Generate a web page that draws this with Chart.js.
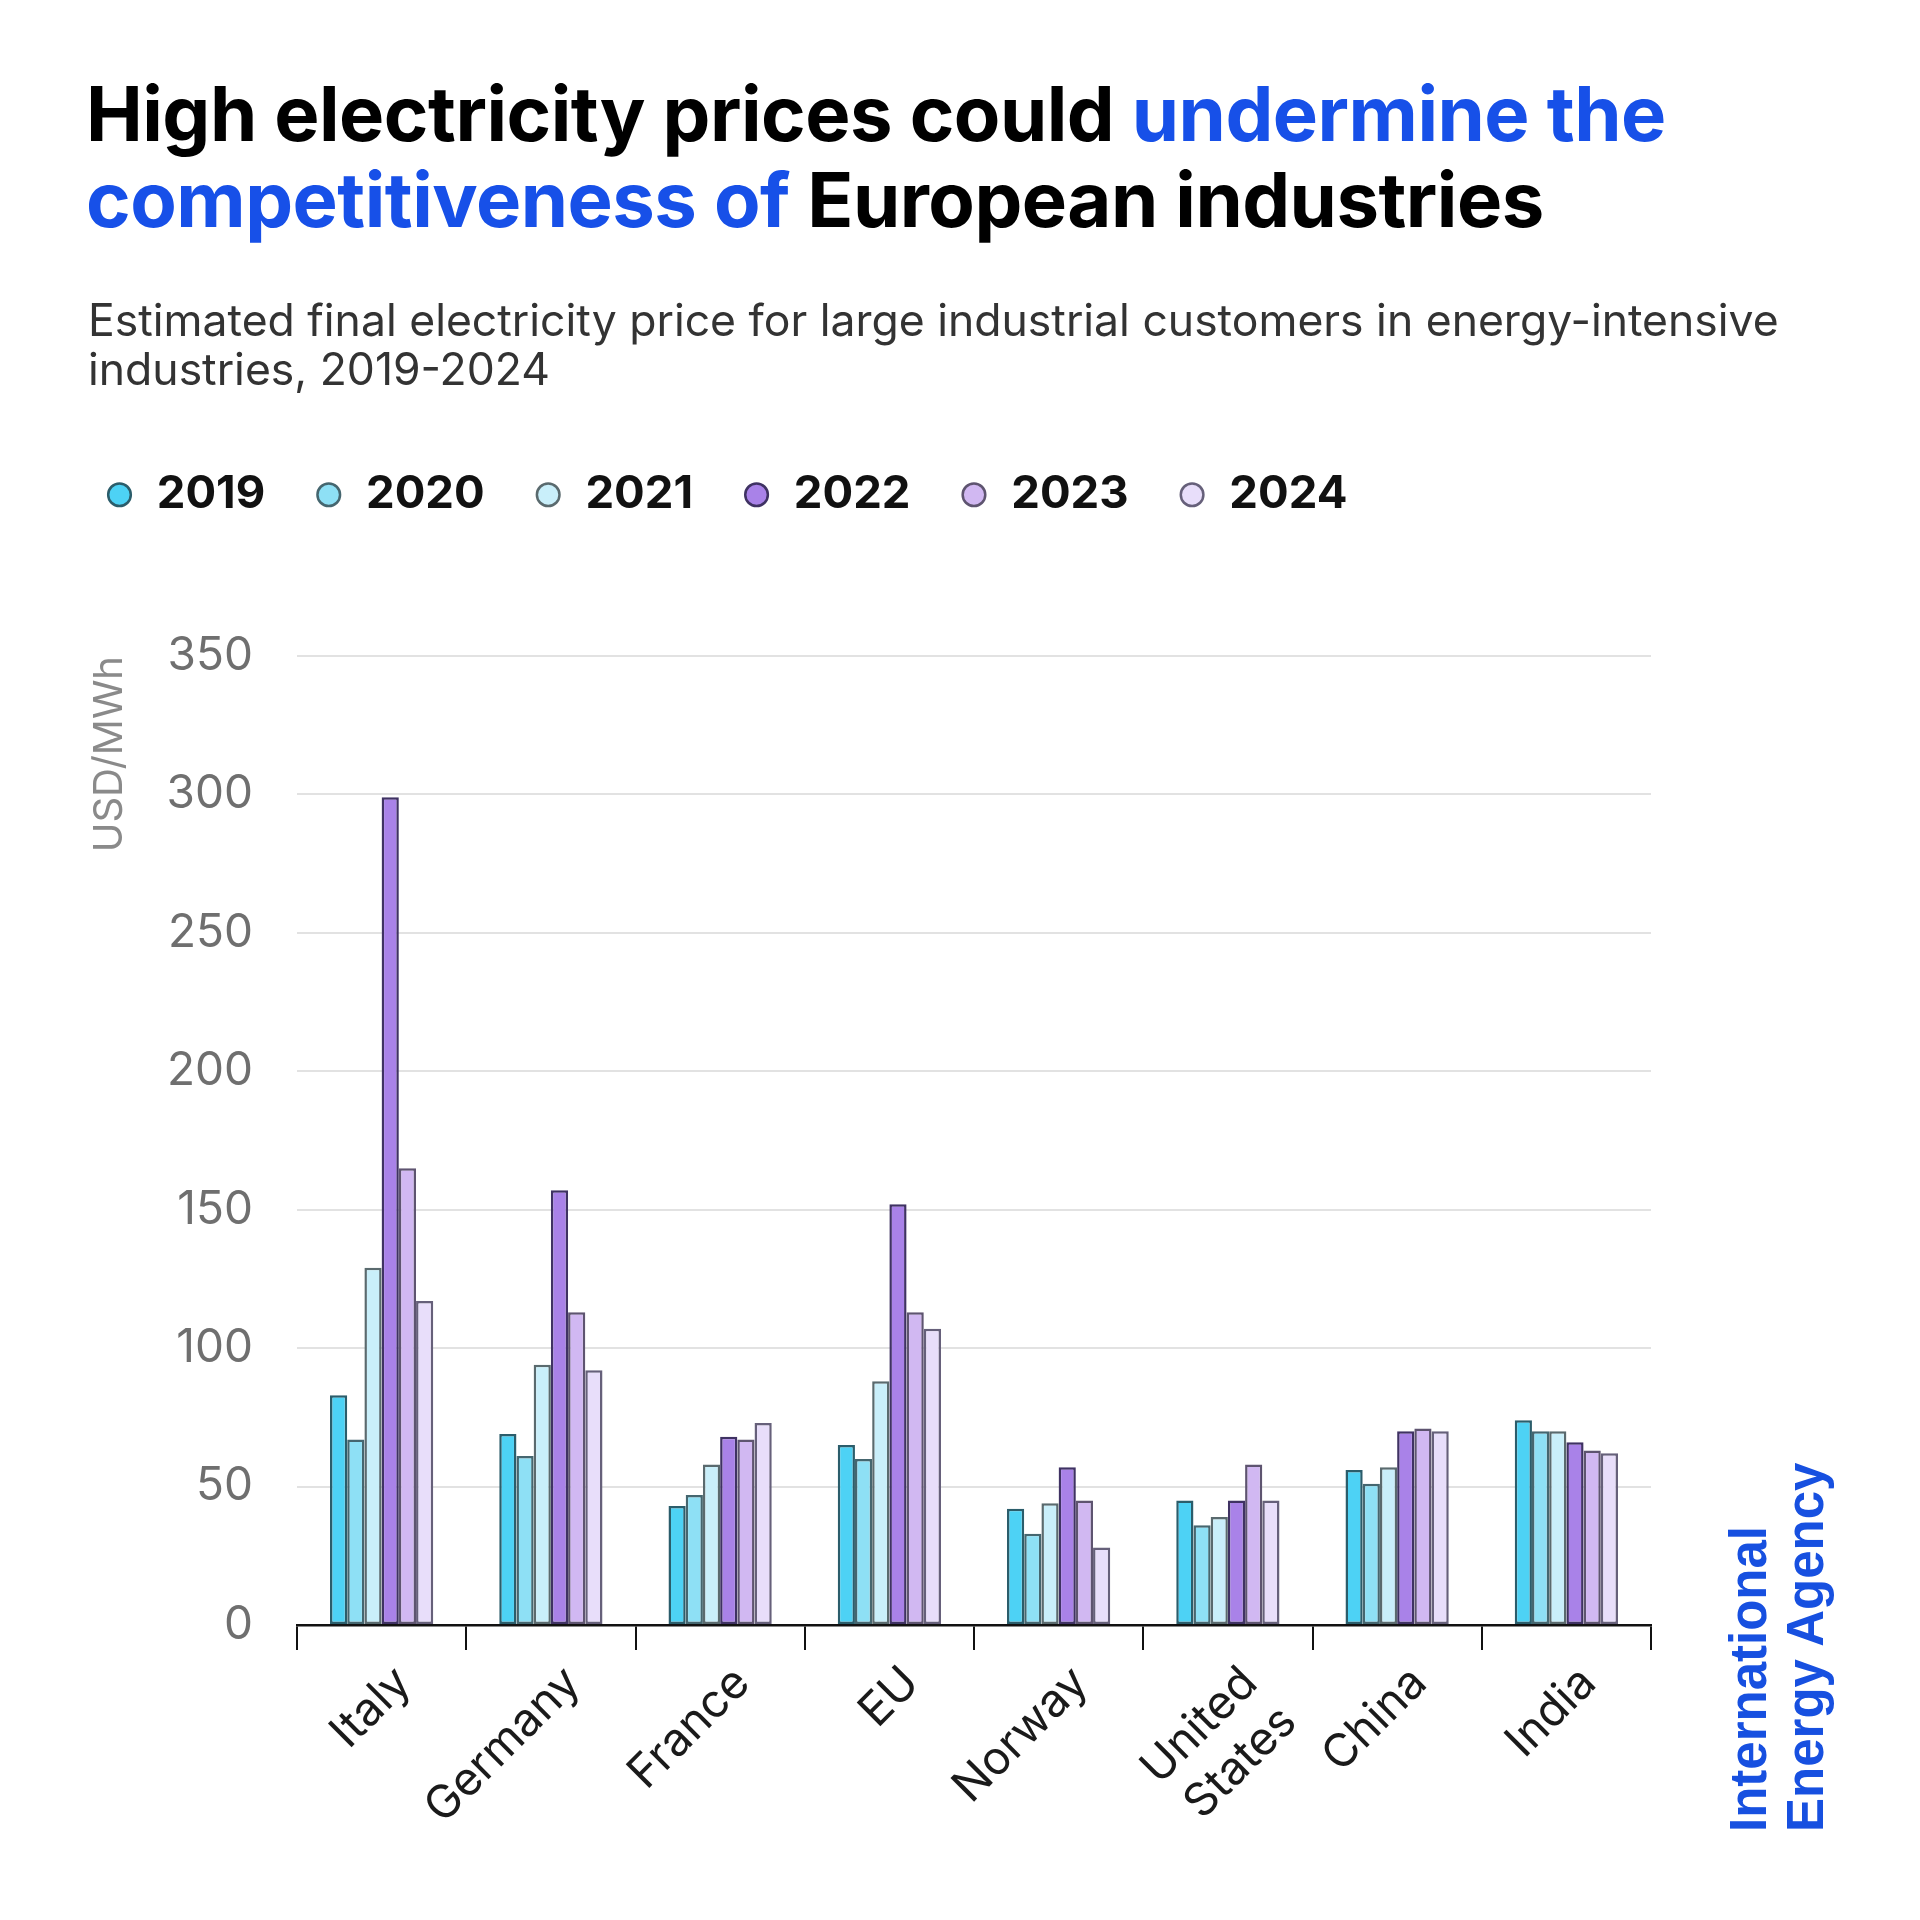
<!DOCTYPE html>
<html>
<head>
<meta charset="utf-8">
<script src="https://cdn.jsdelivr.net/npm/chart.js@4"></script>
<style>
  html, body { margin: 0; padding: 0; background: #fff; }
  #page { position: relative; width: 1920px; height: 1920px; overflow: hidden; }
  #grafico { position: absolute; left: 0; top: 0; }
  .titulo {
    position: absolute; left: 86px; top: 70px; margin: 0;
    font-family: Inter, sans-serif; font-weight: 700; font-size: 76px;
    line-height: 86px; color: #000; letter-spacing: -0.5px;
  }
  .titulo span { color: #1750e8; }
  .subtitulo {
    position: absolute; left: 88px; top: 296px; margin: 0;
    font-family: Inter, sans-serif; font-weight: 400; font-size: 44.5px;
    line-height: 49px; color: #333;
  }
  .logo {
    position: absolute; left: 1720px; top: 1832px;
    transform-origin: 0 0; transform: rotate(-90deg);
    font-family: "Liberation Sans", Arial, sans-serif; font-weight: 700;
    font-size: 51px; line-height: 57px; color: #1750e0; white-space: nowrap;
  }
</style>
</head>
<body>
<div id="page">
  <canvas id="grafico" width="1920" height="1920"></canvas>
  <h1 class="titulo">High electricity prices could <span>undermine the</span><br><span>competitiveness of</span> European industries</h1>
  <p class="subtitulo">Estimated final electricity price for large industrial customers in energy-intensive<br>industries, 2019-2024</p>
  <div class="logo">International<br>Energy Agency</div>
</div>
<script>
// categorias e valores (USD/MWh)
const paises = ['Italy', 'Germany', 'France', 'EU', 'Norway', ['United', 'States'], 'China', 'India'];
const anos = ['2019', '2020', '2021', '2022', '2023', '2024'];

const precos2019 = [83, 69, 43, 65, 42, 45, 56, 74];
const precos2020 = [67, 61, 47, 60, 33, 36, 51, 70];
const precos2021 = [129, 94, 58, 88, 44, 39, 57, 70];
const precos2022 = [299, 157, 68, 152, 57, 45, 70, 66];
const precos2023 = [165, 113, 67, 113, 45, 58, 71, 63];
const precos2024 = [117, 92, 73, 107, 28, 45, 70, 62];

const yTicks = [0, 50, 100, 150, 200, 250, 300, 350];

const cores = ['#4dd2f5', '#8ee0f5', '#c9effa', '#a982e8', '#d1b8f2', '#e8defa'];
const bordas = ['#2b5d6b', '#45666f', '#5a6a6e', '#3f3263', '#5e5470', '#66607a'];

Chart.defaults.font.family = 'Inter, sans-serif';

// legenda com altura fixa para posicionar a area do grafico
const legendaAltura = {
    id: 'legendaAltura',
    beforeInit(chart) {
        const fitOriginal = chart.legend.fit;
        chart.legend.fit = function () {
            fitOriginal.bind(this)();
            this.height = 233;
        };
    }
};

const series = [precos2019, precos2020, precos2021, precos2022, precos2023, precos2024];

const ctx = document.getElementById('grafico').getContext('2d');
new Chart(ctx, {
    type: 'bar',
    data: {
        labels: paises,
        datasets: series.map((valores, i) => ({
            label: anos[i],
            data: valores,
            backgroundColor: cores[i],
            borderColor: bordas[i],
            borderWidth: 2.5,
            borderSkipped: false,
            categoryPercentage: 0.61,
            barPercentage: 1.0
        }))
    },
    options: {
        responsive: false,
        animation: false,
        devicePixelRatio: 1,
        layout: {
            padding: { left: 56, top: 423, right: 269, bottom: 0 }
        },
        plugins: {
            tooltip: { enabled: false },
            legend: {
                position: 'top',
                align: 'start',
                labels: {
                    usePointStyle: true,
                    pointStyle: 'circle',
                    boxWidth: 29,
                    boxHeight: 16,
                    padding: 49,
                    color: '#111',
                    font: { size: 45.5, weight: '700' }
                }
            }
        },
        scales: {
            x: {
                afterFit(scale) { scale.height = 295; },
                grid: {
                    drawOnChartArea: false,
                    drawTicks: true,
                    tickLength: 25,
                    color: '#111',
                    lineWidth: 2
                },
                border: { color: '#111', width: 2.5 },
                ticks: {
                    color: '#1a1a1a',
                    font: { size: 46 },
                    minRotation: 45,
                    maxRotation: 45,
                    labelOffset: 22,
                    padding: 6
                }
            },
            y: {
                min: 0,
                max: 350,
                afterFit(scale) { scale.width = 241; },
                afterBuildTicks(scale) { scale.ticks = yTicks.map(v => ({ value: v })); },
                grid: { color: '#e2e2e2', lineWidth: 2, drawTicks: false },
                border: { display: false },
                ticks: {
                    color: '#6f6f6f',
                    font: { size: 46 },
                    padding: 44
                },
                title: {
                    display: true,
                    text: 'USD/MWh',
                    align: 'end',
                    color: '#8a8a8a',
                    font: { size: 40 },
                    padding: { top: 30, bottom: 0 }
                }
            }
        }
    },
    plugins: [legendaAltura]
});
</script>
</body>
</html>
